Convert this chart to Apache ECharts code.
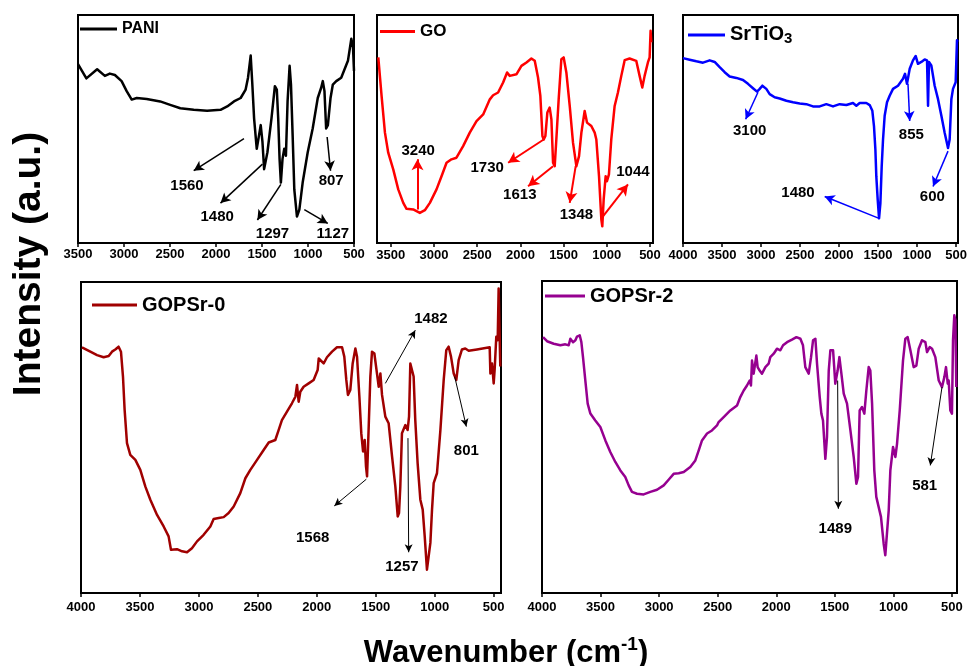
<!DOCTYPE html>
<html><head><meta charset="utf-8">
<script src="https://cdn.jsdelivr.net/npm/echarts@6/dist/echarts.min.js"></script>
<style>html,body{margin:0;padding:0;background:#fff}#c{width:967px;height:666px}</style>
</head><body><div id="c"></div>
<script>
// ---------- DATA ----------
const ticksTop = [3500,3000,2500,2000,1500,1000,500];
const ticksFull = [4000,3500,3000,2500,2000,1500,1000,500];

const paniData = [[3500,78.5],[3409,72.2],[3292,76.2],[3208,73.3],[3154,74.3],[3099,73.7],[3026,71.0],[2971,66.6],[2916,62.9],[2862,63.6],[2753,63.2],[2607,62.1],[2498,60.6],[2388,59.1],[2242,58.4],[2097,58.0],[1951,58.4],[1878,59.9],[1805,62.1],[1732,63.6],[1678,67.3],[1652,72.5],[1623,82.2],[1605,69.5],[1586,54.7],[1557,41.3],[1532,47.3],[1514,51.7],[1495,44.3],[1477,32.4],[1441,39.8],[1397,54.7],[1360,68.8],[1339,67.3],[1324,54.7],[1309,36.9],[1295,26.5],[1277,36.9],[1258,41.3],[1240,38.3],[1222,62.1],[1200,77.7],[1185,69.5],[1167,47.3],[1149,23.5],[1120,11.6],[1094,14.6],[1058,26.5],[1003,39.8],[949,50.2],[894,63.6],[857,68.1],[839,71.0],[821,66.6],[803,50.2],[784,51.7],[755,63.6],[730,69.5],[693,71.0],[639,72.5],[566,79.9],[529,89.6],[511,85.9],[500,75.5]];
const paniPeaks = ['1560','1480','1297','1127','807'];
const paniLabelAt = [[2315,25.0],[1987,11.6],[1386,4.2],[730,4.2],[748,27.2]];
const paniArrows = [[[1696,45.8],[2242,31.7]],[[1495,34.6],[1951,17.5]],[[1295,25.7],[1550,10.1]],[[1040,14.6],[785,8.6]],[[792,46.5],[755,31.7]]];

const goData = [[3645,81.4],[3607,64.5],[3568,48.4],[3530,39.6],[3472,32.3],[3414,23.5],[3356,17.6],[3318,15.0],[3241,14.7],[3164,13.2],[3106,14.4],[3048,17.6],[2971,23.5],[2913,29.3],[2855,35.2],[2798,36.7],[2740,37.4],[2663,42.5],[2586,48.4],[2508,53.5],[2431,56.4],[2354,63.0],[2316,64.8],[2258,66.0],[2200,70.4],[2154,74.8],[2123,73.3],[2046,74.0],[1988,77.7],[1930,79.2],[1873,80.9],[1834,79.9],[1796,72.6],[1769,64.5],[1745,46.9],[1730,45.4],[1711,46.9],[1688,57.2],[1661,59.4],[1641,54.2],[1622,35.2],[1603,33.7],[1584,45.4],[1557,63.0],[1526,80.6],[1499,81.4],[1468,74.8],[1429,60.1],[1391,44.0],[1352,33.7],[1321,38.1],[1294,48.4],[1256,57.9],[1229,52.8],[1179,51.3],[1140,48.4],[1121,45.4],[1090,29.3],[1063,10.3],[1052,7.3],[1036,19.1],[1013,29.3],[998,27.1],[975,30.1],[948,45.4],[909,60.1],[871,66.0],[832,73.3],[793,80.2],[736,80.9],[659,79.9],[620,73.3],[589,68.2],[562,73.3],[524,79.2],[504,81.4],[493,93.1],[485,88.0]];
const goPeaks = ['3240','1730','1613','1348','1044'];
const goLabelAt = [[3183,40.3],[2385,33.0],[2007,21.3],[1352,12.5],[697,31.1]];
const goArrows = [[[3191,14.7],[3191,36.7]],[[1730,45.4],[2142,35.2]],[[1622,33.7],[1911,24.9]],[[1360,33.7],[1429,17.6]],[[1044,11.7],[755,25.7]]];

const srData = [[4000,81.1],[3915,80.4],[3829,79.7],[3744,79.1],[3658,80.1],[3594,79.4],[3530,77.1],[3466,74.9],[3402,73.0],[3316,72.4],[3231,71.5],[3167,69.8],[3103,67.9],[3051,66.4],[3017,67.6],[2983,69.0],[2932,67.6],[2889,65.3],[2825,63.9],[2761,63.4],[2675,62.4],[2590,61.7],[2504,61.2],[2419,60.9],[2334,59.9],[2248,59.9],[2163,60.9],[2077,59.9],[1992,60.9],[1906,60.5],[1821,61.4],[1778,60.2],[1735,61.4],[1650,61.4],[1607,60.5],[1573,58.0],[1552,51.3],[1534,41.0],[1522,29.2],[1504,18.9],[1487,10.8],[1470,17.4],[1453,33.6],[1436,45.4],[1415,55.8],[1385,61.7],[1351,64.6],[1308,67.6],[1244,69.0],[1180,72.0],[1154,74.2],[1129,69.8],[1094,76.4],[1052,80.1],[1017,82.0],[988,78.6],[945,79.4],[902,80.5],[872,80.1],[859,60.2],[847,79.4],[817,77.9],[774,69.0],[731,63.1],[688,55.8],[646,48.4],[603,41.7],[582,45.4],[560,63.1],[539,67.6],[505,70.5],[488,88.9],[478,88.2]];
const srPeaks = ['3100','855','1480','600'];
const srLabelAt = [[3145,49.1],[1073,47.6],[2526,21.8],[804,20.4]];
const srArrows = [[[3039,66.1],[3197,54.3]],[[1116,69.8],[1094,53.5]],[[1487,10.8],[2184,20.4]],[[603,40.3],[795,24.8]]];

const g0Data = [[3992,79.0],[3921,77.6],[3864,76.5],[3808,75.8],[3765,76.2],[3737,77.6],[3709,78.3],[3681,79.2],[3661,77.6],[3644,69.6],[3630,58.9],[3610,48.2],[3582,44.4],[3539,42.8],[3497,39.6],[3454,34.2],[3412,30.0],[3355,25.1],[3299,21.4],[3257,18.2],[3237,13.9],[3186,14.1],[3143,13.4],[3101,13.1],[3059,14.4],[3016,16.6],[2960,18.7],[2903,21.4],[2875,23.8],[2832,24.1],[2790,24.4],[2748,25.7],[2705,27.8],[2649,32.1],[2606,36.9],[2564,39.6],[2507,42.8],[2451,46.0],[2408,48.4],[2352,49.2],[2324,52.4],[2296,55.6],[2253,58.3],[2211,61.0],[2182,63.1],[2168,66.9],[2154,61.5],[2140,64.7],[2112,66.3],[2069,67.4],[2027,68.5],[1993,71.7],[1984,75.4],[1970,74.9],[1942,73.8],[1914,75.8],[1871,77.6],[1829,79.0],[1786,79.0],[1767,76.0],[1750,68.5],[1736,63.7],[1716,65.3],[1696,73.8],[1673,78.6],[1659,76.0],[1639,63.1],[1623,51.4],[1608,45.5],[1594,49.2],[1583,40.7],[1574,37.5],[1560,53.5],[1546,69.6],[1532,77.6],[1512,77.0],[1490,70.6],[1475,66.3],[1461,70.6],[1447,63.7],[1419,56.7],[1391,54.6],[1362,43.9],[1334,34.2],[1314,24.6],[1303,25.7],[1292,34.2],[1278,51.4],[1249,54.0],[1230,52.4],[1218,56.7],[1207,73.8],[1193,74.4],[1179,69.6],[1165,55.6],[1145,41.7],[1122,30.0],[1102,26.8],[1085,18.2],[1066,7.5],[1051,7.0],[1037,16.1],[1023,26.8],[1009,35.3],[981,38.5],[952,52.4],[924,68.5],[902,78.1],[882,79.2],[862,76.0],[839,70.6],[817,68.5],[797,74.9],[769,78.3],[741,78.6],[712,77.9],[642,78.3],[534,79.0],[528,70.6],[514,73.8],[500,67.4],[492,71.7],[478,82.4],[466,81.3],[458,97.9],[450,97.4],[444,72.8]];
const g0Peaks = ['1482','1568','1257','801'];
const g0LabelAt = [[1032,88.0],[2035,17.7],[1278,8.3],[732,45.7]];
const g0Arrows = [[[1419,67.4],[1165,84.5]],[[1580,36.6],[1852,28.0]],[[1227,49.8],[1221,13.1]],[[831,69.6],[732,53.5]]];

const g2Data = [[3991,82.0],[3957,80.7],[3900,79.9],[3843,79.4],[3801,79.7],[3772,79.4],[3758,81.5],[3735,80.4],[3715,81.0],[3701,82.2],[3678,82.6],[3664,80.4],[3650,75.6],[3630,68.1],[3610,60.7],[3587,57.5],[3545,55.3],[3502,53.2],[3459,48.9],[3417,45.2],[3374,42.0],[3331,39.3],[3289,37.2],[3260,34.5],[3232,32.4],[3189,31.8],[3132,31.6],[3075,32.4],[3018,33.1],[2961,34.5],[2919,36.3],[2876,38.2],[2833,38.4],[2790,38.8],[2734,40.4],[2691,42.5],[2662,45.7],[2634,48.9],[2591,51.1],[2549,52.1],[2506,53.7],[2492,54.8],[2449,56.4],[2392,58.5],[2335,60.1],[2307,62.8],[2278,64.9],[2250,66.5],[2227,68.1],[2216,66.5],[2207,74.5],[2193,70.3],[2170,76.1],[2159,72.4],[2142,71.3],[2122,70.3],[2093,72.4],[2065,73.5],[2051,75.6],[2022,76.7],[1994,78.3],[1965,77.8],[1942,79.4],[1908,80.4],[1866,81.2],[1828,82.0],[1794,81.5],[1772,79.4],[1752,72.4],[1723,70.3],[1703,75.6],[1686,81.0],[1666,81.5],[1652,73.5],[1629,62.8],[1615,57.5],[1601,55.3],[1581,43.0],[1567,50.0],[1552,71.3],[1538,77.8],[1515,77.8],[1496,67.1],[1476,71.3],[1461,75.6],[1444,70.3],[1424,63.9],[1396,60.7],[1367,52.1],[1339,43.6],[1316,35.0],[1302,37.2],[1288,58.5],[1268,59.6],[1248,57.5],[1231,64.9],[1211,72.4],[1197,71.3],[1182,60.7],[1163,39.3],[1146,30.8],[1126,27.6],[1106,24.4],[1083,15.8],[1069,12.1],[1054,12.6],[1040,26.5],[1026,39.3],[1003,46.8],[983,43.6],[969,47.8],[946,58.5],[918,74.5],[898,81.5],[878,82.0],[855,77.8],[827,72.4],[804,72.9],[784,78.3],[756,81.0],[727,80.4],[713,77.2],[690,78.8],[670,78.3],[642,75.6],[613,68.1],[585,66.0],[565,69.2],[551,72.4],[536,67.1],[528,68.1],[514,58.5],[500,57.5],[491,81.0],[480,89.0],[471,87.4],[463,66.0]];
const g2Peaks = ['1489','581'];
const g2LabelAt = [[1496,20.6],[733,34.2]];
const g2Arrows = [[[1476,68.1],[1470,27.0]],[[585,66.0],[685,40.9]]];

// ---------- LAYOUT / STYLE ----------
const FONT = 'Liberation Sans, Arial, sans-serif';
const panels = [
  {name:'PANI', color:'#000000', data:paniData, peaks:paniPeaks, at:paniLabelAt, arrows:paniArrows,
   min:500, max:3500, ticks:ticksTop, grid:{left:78, top:15, width:276, height:228},
   arrowColor:'#000000', arrowW:1.5, arrowSize:[8,10], legend:{left:80, top:21, w:37, fs:16}, labMargin:5},
  {name:'GO', color:'#ff0000', data:goData, peaks:goPeaks, at:goLabelAt, arrows:goArrows,
   min:465, max:3660, ticks:ticksTop, grid:{left:377, top:15, width:276, height:228},
   arrowColor:'#ff0000', arrowW:2, arrowSize:[9,11], legend:{left:380, top:23, w:35, fs:17}, labMargin:6},
  {name:'SrTiO3', color:'#0000ff', data:srData, peaks:srPeaks, at:srLabelAt, arrows:srArrows,
   min:475, max:4000, ticks:ticksFull, grid:{left:683, top:15, width:275, height:228},
   arrowColor:'#0000ff', arrowW:1.5, arrowSize:[8,10], legend:{left:688, top:23, w:37, fs:20}, labMargin:6},
  {name:'GOPSr-0', color:'#a00000', data:g0Data, peaks:g0Peaks, at:g0LabelAt, arrows:g0Arrows,
   min:438, max:4000, ticks:ticksFull, grid:{left:81, top:282, width:420, height:311},
   arrowColor:'#000000', arrowW:1, arrowSize:[6,8], legend:{left:92, top:295, w:45, fs:20}, labMargin:8},
  {name:'GOPSr-2', color:'#960090', data:g2Data, peaks:g2Peaks, at:g2LabelAt, arrows:g2Arrows,
   min:457, max:4000, ticks:ticksFull, grid:{left:542, top:281, width:415, height:312},
   arrowColor:'#000000', arrowW:1, arrowSize:[6,8], legend:{left:545, top:286, w:40, fs:20}, labMargin:8}
];

const option = {
  animation:false,
  backgroundColor:'#ffffff',
  textStyle:{fontFamily:FONT},
  grid:[], xAxis:[], yAxis:[], series:[], legend:[],
  graphic:[
    {type:'text', x:29, y:264, rotation:Math.PI/2,
     style:{text:'Intensity (a.u.)', font:'bold 39px '+FONT, fill:'#000', textAlign:'center', textVerticalAlign:'middle'}},
    {type:'text', x:506, y:652,
     style:{text:'{a|Wavenumber (cm}{s|-1}{a|)}', fill:'#000', textAlign:'center', textVerticalAlign:'middle',
       rich:{a:{font:'bold 31px '+FONT, fill:'#000', verticalAlign:'bottom', lineHeight:34},
             s:{font:'bold 19px '+FONT, fill:'#000', verticalAlign:'top', lineHeight:34}}}}
  ]
};

panels.forEach((p,i)=>{
  option.grid.push(Object.assign({show:true, borderColor:'#000', borderWidth:2, backgroundColor:'#fff', containLabel:false, outerBoundsMode:'none'}, p.grid));
  option.xAxis.push({
    type:'value', gridIndex:i, inverse:true, min:p.min, max:p.max,
    splitLine:{show:false},
    axisLine:{show:true, onZero:false, lineStyle:{color:'#000', width:2}},
    axisTick:{show:true, inside:false, length:4, lineStyle:{color:'#000', width:1.5}, customValues:p.ticks},
    axisLabel:{show:true, customValues:p.ticks, formatter:v=>String(v), color:'#000', fontWeight:'bold', fontSize:13, fontFamily:FONT, margin:p.labMargin, showMinLabel:true, showMaxLabel:true, hideOverlap:false}
  });
  option.yAxis.push({type:'value', gridIndex:i, min:0, max:100, show:false, splitLine:{show:false}});
  option.series.push({
    name:p.name, type:'line', xAxisIndex:i, yAxisIndex:i, data:p.data,
    showSymbol:false, symbol:'none', color:p.color, clip:false,
    lineStyle:{color:p.color, width:2.5, join:'round'},
    markLine:{silent:true, symbol:['none','arrow'], symbolSize:p.arrowSize, animation:false,
      lineStyle:{color:p.arrowColor, width:p.arrowW, type:'solid'}, label:{show:false},
      emphasis:{disabled:true},
      data:p.arrows.map(a=>[{coord:a[0]},{coord:a[1]}])},
    markPoint:{silent:true, symbol:'circle', symbolSize:0, animation:false,
      label:{show:true, position:'inside', formatter:'{b}', color:'#000', fontWeight:'bold', fontSize:15, fontFamily:FONT},
      data:p.peaks.map((t,k)=>({name:t, coord:p.at[k]}))}
  });
  const lg = {
    data:[p.name], left:p.legend.left, top:p.legend.top, padding:0, icon:'rect',
    itemWidth:p.legend.w, itemHeight:3, selectedMode:false, orient:'horizontal',
    textStyle:{color:'#000', fontWeight:'bold', fontSize:p.legend.fs, fontFamily:FONT}
  };
  if (p.name === 'SrTiO3') {
    lg.formatter = ()=> '{a|SrTiO}{s|3}';
    lg.textStyle.rich = {a:{fontWeight:'bold', fontSize:20, fontFamily:FONT, color:'#000', verticalAlign:'top', lineHeight:22},
                         s:{fontWeight:'bold', fontSize:15, fontFamily:FONT, color:'#000', verticalAlign:'bottom', lineHeight:22, padding:[8,0,0,0]}};
  }
  option.legend.push(lg);
});

const chart = echarts.init(document.getElementById('c'), null, {renderer:'canvas', width:967, height:666});
chart.setOption(option);
</script></body></html>
